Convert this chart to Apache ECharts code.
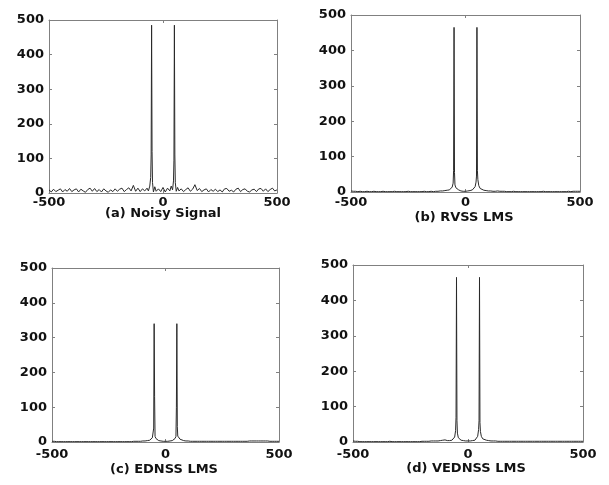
<!DOCTYPE html>
<html>
<head>
<meta charset="utf-8">
<title>Spectra</title>
<style>
    html, body { margin: 0; padding: 0; background: #fff; }
    #main { width: 609px; height: 485px; }
</style>
<script src="https://cdn.jsdelivr.net/npm/echarts@6/dist/echarts.min.js"></script>
</head>
<body>
<div id="main"></div>
<script>
// frequency grid (shared by all four panels)
var freq = [
    -500, -490, -480, -470, -460, -450, -440, -430, -420, -410,
    -400, -390, -380, -370, -360, -350, -340, -330, -320, -310,
    -300, -290, -280, -270, -260, -250, -240, -230, -220, -210,
    -200, -190, -180, -170, -160, -150, -140, -130, -120, -110,
    -100, -90, -80,
    -70, -64, -58, -54, -52, -50, -48, -46, -42, -36, -30,
    -20, -10, 0, 10, 20,
    30, 36, 42, 46, 48, 50, 52, 54, 58, 64, 70,
    80, 90, 100, 110, 120, 130, 140, 150, 160, 170,
    180, 190, 200, 210, 220, 230, 240, 250, 260, 270,
    280, 290, 300, 310, 320, 330, 340, 350, 360, 370,
    380, 390, 400, 410, 420, 430, 440, 450, 460, 470,
    480, 490, 500
];

// (a) noisy signal
var noisy = [
    9, 3, 11, 4, 8, 12, 3, 10, 5, 13,
    4, 9, 12, 3, 11, 6, 2, 10, 14, 5,
    13, 4, 10, 3, 12, 6, 2, 9, 4, 12,
    5, 11, 14, 4, 10, 15, 6, 22, 5, 14,
    4, 12, 6,
    14, 6, 20, 45, 110, 485, 120, 30, 3, 18, 5,
    12, 4, 16, 3, 14,
    6, 20, 9, 35, 95, 485, 110, 30, 5, 16, 6,
    12, 4, 10, 15, 5, 11, 24, 7, 13, 4,
    9, 12, 3, 10, 5, 11, 4, 9, 3, 12,
    13, 5, 8, 3, 11, 14, 4, 10, 12, 5,
    3, 9, 11, 4, 12, 13, 5, 12, 4, 10,
    14, 6, 9
];

// (b) RVSS LMS
var rvss = [
    3, 2, 2, 1, 2, 1, 1, 2, 1, 1,
    2, 1, 1, 1, 2, 1, 1, 1, 1, 2,
    1, 1, 1, 1, 1, 2, 1, 1, 1, 1,
    1, 1, 2, 1, 1, 2, 1, 2, 2, 3,
    3, 4, 5,
    6, 9, 14, 25, 60, 465, 55, 20, 12, 8, 6,
    3, 2, 2, 3, 4,
    6, 9, 15, 28, 45, 465, 60, 35, 18, 10, 6,
    5, 4, 3, 3, 2, 2, 3, 2, 2, 2,
    1, 1, 1, 2, 1, 1, 1, 1, 1, 1,
    1, 1, 1, 1, 1, 1, 2, 1, 1, 1,
    1, 1, 1, 1, 1, 1, 1, 2, 1, 2,
    2, 2, 2
];

// (c) EDNSS LMS
var ednss = [
    2, 2, 1, 1, 1, 1, 1, 1, 1, 1,
    1, 1, 1, 1, 1, 1, 1, 1, 1, 1,
    1, 1, 1, 1, 1, 1, 1, 1, 1, 1,
    1, 1, 1, 1, 1, 1, 2, 2, 2, 2,
    3, 3, 4,
    5, 8, 12, 17, 40, 340, 130, 16, 10, 6, 4,
    3, 2, 2, 2, 3,
    4, 6, 10, 16, 100, 340, 45, 17, 12, 8, 5,
    4, 3, 3, 2, 2, 2, 2, 2, 2, 2,
    2, 2, 2, 2, 2, 2, 2, 2, 2, 2,
    2, 2, 2, 2, 2, 2, 2, 2, 2, 3,
    3, 3, 3, 3, 3, 3, 3, 3, 2, 2,
    2, 2, 2
];

// (d) VEDNSS LMS
var vednss = [
    3, 2, 2, 1, 1, 1, 1, 1, 1, 1,
    1, 1, 1, 1, 1, 1, 2, 1, 1, 1,
    1, 1, 1, 1, 1, 1, 1, 1, 1, 1,
    2, 2, 2, 2, 3, 3, 3, 3, 4, 5,
    6, 4, 4,
    5, 8, 14, 32, 70, 465, 60, 25, 12, 8, 5,
    4, 3, 3, 3, 4,
    5, 9, 16, 35, 60, 465, 55, 30, 16, 9, 6,
    5, 4, 3, 3, 3, 2, 2, 2, 2, 2,
    2, 2, 2, 2, 2, 2, 2, 2, 2, 2,
    2, 2, 2, 2, 2, 2, 2, 2, 2, 2,
    2, 2, 2, 2, 2, 2, 2, 2, 2, 2,
    2, 2, 2
];

var captions = ['(a) Noisy Signal', '(b) RVSS LMS', '(c) EDNSS LMS', '(d) VEDNSS LMS'];

var frameColor = '#808080';
var lineColor = '#2a2a2a';
var labelFont = 'DejaVu Sans';

// panel boxes in px: left, right, top, bottom ; caption position ; x label margin
var panels = [
    {left: 49, right: 332, top: 20, bottom: 292, cx: 163, cy: 207, xm: 3},
    {left: 351, right: 29, top: 15, bottom: 293, cx: 464, cy: 211, xm: 4},
    {left: 52, right: 330, top: 268, bottom: 43, cx: 164, cy: 463, xm: 6},
    {left: 353, right: 26, top: 265, bottom: 43, cx: 466, cy: 462, xm: 6}
];
var seriesData = [noisy, rvss, ednss, vednss];

function pairs(ys) {
    var out = [];
    for (var i = 0; i < freq.length; i++) {
        out.push([freq[i], ys[i]]);
    }
    return out;
}

var grid = [], xAxis = [], yAxis = [], series = [], title = [];
for (var p = 0; p < panels.length; p++) {
    var b = panels[p];
    grid.push({left: b.left, right: b.right, top: b.top, bottom: b.bottom, show: false});
    // bottom axis with labels
    xAxis.push({
        gridIndex: p, type: 'value', min: -500, max: 500, interval: 500,
        position: 'bottom',
        axisLine: {show: true, onZero: false, lineStyle: {color: frameColor, width: 1}},
        axisTick: {show: true, inside: true, length: 3, lineStyle: {color: frameColor}},
        axisLabel: {color: '#111', fontFamily: labelFont, fontWeight: 'bold', fontSize: 13, margin: b.xm},
        splitLine: {show: false}
    });
    // top axis, frame only
    xAxis.push({
        gridIndex: p, type: 'value', min: -500, max: 500, interval: 500,
        position: 'top',
        axisLine: {show: true, onZero: false, lineStyle: {color: frameColor, width: 1}},
        axisTick: {show: true, inside: true, length: 3, lineStyle: {color: frameColor}},
        axisLabel: {show: false},
        splitLine: {show: false}
    });
    yAxis.push({
        gridIndex: p, type: 'value', min: 0, max: 500, interval: 100,
        position: 'left',
        axisLine: {show: true, onZero: false, lineStyle: {color: frameColor, width: 1}},
        axisTick: {show: true, inside: true, length: 3, lineStyle: {color: frameColor}},
        axisLabel: {color: '#111', fontFamily: labelFont, fontWeight: 'bold', fontSize: 13, margin: 5},
        splitLine: {show: false}
    });
    yAxis.push({
        gridIndex: p, type: 'value', min: 0, max: 500, interval: 100,
        position: 'right',
        axisLine: {show: true, onZero: false, lineStyle: {color: frameColor, width: 1}},
        axisTick: {show: true, inside: true, length: 3, lineStyle: {color: frameColor}},
        axisLabel: {show: false},
        splitLine: {show: false}
    });
    series.push({
        type: 'line',
        xAxisIndex: p * 2,
        yAxisIndex: p * 2,
        data: pairs(seriesData[p]),
        showSymbol: false,
        lineStyle: {color: lineColor, width: 1},
        animation: false
    });
    title.push({
        text: captions[p],
        left: b.cx,
        top: b.cy,
        textAlign: 'center',
        padding: 0,
        textStyle: {fontFamily: labelFont, fontWeight: 'bold', fontSize: 13, color: '#111'}
    });
}

var myChart = echarts.init(document.getElementById('main'));
myChart.setOption({
    animation: false,
    title: title,
    grid: grid,
    xAxis: xAxis,
    yAxis: yAxis,
    series: series
});
</script>
</body>
</html>
